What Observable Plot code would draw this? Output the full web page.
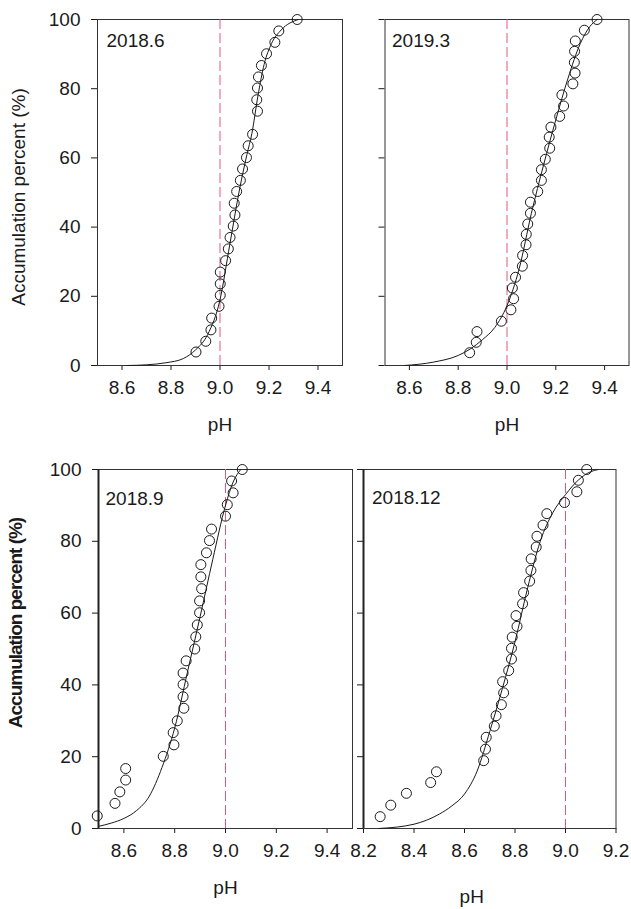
<!DOCTYPE html>
<html>
<head>
<meta charset="utf-8">
<script src="https://cdn.jsdelivr.net/npm/d3@7"></script>
<script src="https://cdn.jsdelivr.net/npm/@observablehq/plot@0.6"></script>
<style>
  html, body { margin: 0; padding: 0; background: #fff; }
  #wrap { position: relative; width: 631px; height: 909px; overflow: hidden; }
  #wrap svg { position: absolute; left: 0; top: 0; overflow: visible; }
  .ytitle { position: absolute; white-space: nowrap; font-family: 'Liberation Sans', Arial, Helvetica, sans-serif;
            font-size: 19px; color: #1a1a1a; transform: translate(-50%, -50%) rotate(-90deg); line-height: 1; }
  .ytitle.condensed { font-weight: bold; letter-spacing: -1px; }
</style>
</head>
<body>
<div id="wrap"></div>
<script>
// ---------- data ----------
const panelLabels = ["2018.6", "2019.3", "2018.9", "2018.12"];
const xTitle = "pH";
const yTitle = "Accumulation percent (%)";
const yTicks = [0, 20, 40, 60, 80, 100];
const xTicksA = [8.6, 8.8, 9.0, 9.2, 9.4];
const xTicksB = [8.2, 8.4, 8.6, 8.8, 9.0, 9.2];
const limitPH = 9.0;

// 2018.6
const pH1  = [8.902, 8.942, 8.963, 8.966, 8.996, 9.001, 9.001, 9.001, 9.023, 9.034, 9.041, 9.054, 9.061, 9.058, 9.068, 9.083, 9.092, 9.108, 9.115, 9.133, 9.153, 9.150, 9.153, 9.157, 9.169, 9.190, 9.224, 9.240, 9.315];
const pct1 = [3.9, 7.0, 10.3, 13.7, 17.1, 20.3, 23.6, 27.0, 30.3, 33.7, 37.0, 40.3, 43.5, 46.9, 50.3, 53.5, 56.8, 60.1, 63.5, 66.8, 73.5, 76.8, 80.2, 83.4, 86.7, 90.1, 93.4, 96.7, 100];
const fitX1 = [8.62, 8.70, 8.78, 8.85, 8.90, 8.95, 9.00, 9.04, 9.08, 9.11, 9.13, 9.155, 9.18, 9.21, 9.25, 9.32];
const fitY1 = [0, 0.2, 0.8, 2, 4.5, 9, 19, 35, 51, 61, 67, 78, 87, 93, 97, 100];

// 2019.3
const pH2  = [8.847, 8.874, 8.877, 8.977, 9.016, 9.027, 9.022, 9.035, 9.063, 9.064, 9.078, 9.079, 9.085, 9.096, 9.096, 9.126, 9.141, 9.141, 9.157, 9.175, 9.173, 9.180, 9.216, 9.232, 9.225, 9.270, 9.279, 9.276, 9.277, 9.280, 9.317, 9.369];
const pct2 = [3.7, 6.7, 9.8, 12.8, 16.1, 19.3, 22.4, 25.5, 28.7, 31.8, 34.9, 37.9, 40.9, 44.0, 47.2, 50.3, 53.5, 56.6, 59.6, 62.8, 66.0, 68.9, 72.0, 75.0, 78.2, 81.4, 84.5, 87.6, 90.8, 93.8, 96.9, 100];
const fitX2 = [8.58, 8.70, 8.80, 8.85, 8.90, 8.95, 9.00, 9.05, 9.10, 9.15, 9.20, 9.25, 9.30, 9.34, 9.37];
const fitY2 = [0, 1, 2.9, 4.8, 7.5, 11, 17.3, 28, 44, 58, 71, 83, 93, 98, 100];

// 2018.9
const pH3  = [8.495, 8.565, 8.584, 8.607, 8.607, 8.755, 8.797, 8.794, 8.810, 8.836, 8.833, 8.833, 8.833, 8.845, 8.879, 8.883, 8.889, 8.898, 8.898, 8.906, 8.903, 8.903, 8.925, 8.937, 8.945, 9.000, 9.007, 9.030, 9.024, 9.066];
const pct3 = [3.5, 7.0, 10.2, 13.5, 16.7, 20.1, 23.3, 26.7, 30.0, 33.5, 36.7, 40.1, 43.3, 46.7, 50.0, 53.4, 56.7, 60.1, 63.4, 66.8, 70.1, 73.5, 76.8, 80.2, 83.4, 87.0, 90.2, 93.5, 96.8, 100];
const fitX3 = [8.50, 8.55, 8.60, 8.65, 8.70, 8.75, 8.80, 8.85, 8.90, 8.95, 9.00, 9.03, 9.06];
const fitY3 = [0.6, 1.5, 2.8, 5, 9, 17, 28, 43.5, 59, 75, 90, 96.5, 100];

// 2018.12
const pH4  = [8.266, 8.308, 8.370, 8.466, 8.489, 8.676, 8.683, 8.686, 8.718, 8.725, 8.746, 8.755, 8.751, 8.775, 8.786, 8.786, 8.789, 8.808, 8.804, 8.830, 8.834, 8.858, 8.863, 8.864, 8.884, 8.887, 8.911, 8.926, 8.996, 9.045, 9.051, 9.084];
const pct4 = [3.3, 6.5, 9.8, 12.8, 15.8, 18.9, 22.1, 25.4, 28.5, 31.4, 34.5, 37.8, 40.9, 44.0, 47.2, 50.2, 53.3, 56.3, 59.3, 62.6, 65.7, 68.9, 71.9, 75.1, 78.4, 81.4, 84.5, 87.7, 90.8, 93.8, 97.0, 100];
const fitX4 = [8.26, 8.40, 8.50, 8.55, 8.60, 8.65, 8.70, 8.75, 8.80, 8.85, 8.90, 8.95, 9.00, 9.05, 9.10, 9.13];
const fitY4 = [0, 1.2, 4, 6.3, 9.6, 16, 27, 39, 52, 67, 80, 88, 93, 97, 99.4, 100];

// ---------- layout ----------
const W = 631, H = 909;
const font = "'Liberation Sans', Arial, Helvetica, sans-serif";
const ink = "#1a1a1a";
const limitColor = "#e05a7d";

const panels = [
  {label: panelLabels[0], px: pH1, py: pct1, fx: fitX1, fy: fitY1, xDomain: [8.5, 9.5], xTicks: xTicksA,
   ml: 97, mr: W - 342, mt: 19, mb: H - 365, showY: true, yt: [18, 197], condensed: false,
   labDx: 9, labDy: 21, pHdx: 0, pHdy: 59, boldLeft: false},
  {label: panelLabels[1], px: pH2, py: pct2, fx: fitX2, fy: fitY2, xDomain: [8.5, 9.5], xTicks: xTicksA,
   ml: 384.5, mr: W - 628.5, mt: 19, mb: H - 365, showY: false,
   labDx: 7, labDy: 21, pHdx: 0, pHdy: 59, boldLeft: false},
  {label: panelLabels[2], px: pH3, py: pct3, fx: fitX3, fy: fitY3, xDomain: [8.5, 9.5], xTicks: xTicksA,
   ml: 98, mr: W - 352, mt: 469, mb: H - 828, showY: true, yt: [15, 623], condensed: true,
   labDx: 7, labDy: 29, pHdx: 0, pHdy: 59, boldLeft: true},
  {label: panelLabels[3], px: pH4, py: pct4, fx: fitX4, fy: fitY4, xDomain: [8.2, 9.2], xTicks: xTicksB,
   ml: 363, mr: W - 615.5, mt: 469, mb: H - 828, showY: false,
   labDx: 8.5, labDy: 28, pHdx: -18, pHdy: 68, boldLeft: true}
];

const wrap = document.getElementById("wrap");

for (const p of panels) {
  const pts = p.px.map((x, i) => ({x, y: p.py[i]}));
  const fit = p.fx.map((x, i) => ({x, y: p.fy[i]}));
  const marks = [
    Plot.frame({stroke: "#333", strokeWidth: 1}),
    Plot.ruleX([limitPH], {stroke: limitColor, strokeWidth: 1, strokeDasharray: "10,4"}),
    Plot.line(fit, {x: "x", y: "y", curve: "monotone-x", stroke: ink, strokeWidth: 1}),
    Plot.dot(pts, {x: "x", y: "y", r: 5, stroke: ink, fill: "none", strokeWidth: 1}),
    Plot.text([p.label], {frameAnchor: "top-left", dx: p.labDx, dy: p.labDy, text: d => d,
      textAnchor: "start", lineAnchor: "middle", fontSize: 19, fill: ink}),
    Plot.text([xTitle], {frameAnchor: "bottom", dx: p.pHdx, dy: p.pHdy, text: d => d,
      textAnchor: "middle", lineAnchor: "middle", fontSize: 19, fill: ink})
  ];
  if (p.boldLeft) marks.push(Plot.ruleX([p.xDomain[0]], {stroke: "#222", strokeWidth: 2}));
  const chart = Plot.plot({
    width: W, height: H,
    marginLeft: p.ml, marginRight: p.mr, marginTop: p.mt, marginBottom: p.mb,
    style: {fontFamily: font, fontSize: "19px", color: ink, background: "transparent", overflow: "visible"},
    x: {domain: p.xDomain, ticks: p.xTicks, tickFormat: d3.format(".1f"), tickSize: 5, tickPadding: 10, label: null},
    y: {domain: [0, 100], ticks: yTicks, tickSize: 6, tickPadding: 11, label: null,
        tickFormat: p.showY ? (d => String(d)) : (() => "")},
    marks
  });
  wrap.appendChild(chart);
  if (p.showY) {
    const t = document.createElement("div");
    t.className = "ytitle" + (p.condensed ? " condensed" : "");
    t.textContent = yTitle;
    t.style.left = p.yt[0] + "px";
    t.style.top = p.yt[1] + "px";
    wrap.appendChild(t);
  }
}
</script>
</body>
</html>
